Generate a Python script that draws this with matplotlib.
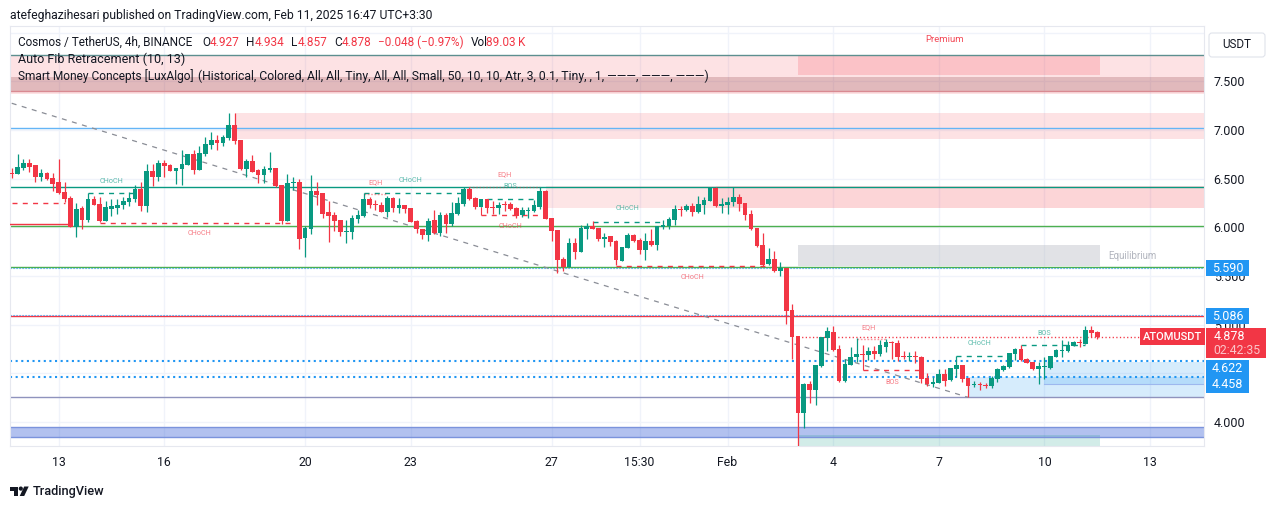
import matplotlib
matplotlib.use("Agg")
import matplotlib.pyplot as plt
from matplotlib.patches import Rectangle, Polygon, Circle, FancyBboxPatch
from matplotlib.transforms import Affine2D

plt.rcParams['font.family'] = ['Roboto', 'DejaVu Sans']

UP = '#089981'
DOWN = '#f23645'
TEXT = '#131722'
BLUE = '#2196f3'

# 4h candles
opens = [6.56,6.55,6.61,6.66,6.64,6.52,6.56,6.51,6.47,6.36,6.30,6.00,6.20,6.08,6.29,6.24,6.07,6.19,6.20,6.23,
         6.26,6.29,6.40,6.22,6.58,6.52,6.66,6.64,6.58,6.60,6.64,6.755,6.59,6.755,6.85,6.90,6.87,6.92,7.05,6.90,
         6.60,6.68,6.59,6.54,6.59,6.61,6.44,6.07,6.46,6.47,5.89,5.98,6.375,6.35,6.16,6.128,6.076,5.953,5.953,6.087,
         6.117,6.292,6.241,6.23,6.158,6.302,6.2,6.23,6.2,6.066,5.984,5.922,6.076,5.943,6.128,6.035,6.138,6.241,6.395,6.302,
         6.21,6.292,6.21,6.2,6.241,6.241,6.2,6.128,6.169,6.169,6.21,6.374,6.097,5.974,5.675,5.593,5.84,5.747,5.984,6.014,
         5.994,5.881,5.912,5.86,5.655,5.788,5.922,5.871,5.768,5.86,5.819,6.004,6.014,6.076,6.189,6.179,6.22,6.158,6.23,6.271,
         6.405,6.22,6.23,6.261,6.312,6.251,6.138,5.994,5.819,5.624,5.675,5.552,5.583,5.151,4.884,4.093,4.391,4.329,4.576,4.864,
         4.925,4.751,4.422,4.586,4.668,4.699,4.689,4.73,4.699,4.771,4.822,4.812,4.679,4.668,4.679,4.668,4.452,4.391,4.401,4.494,
         4.432,4.545,4.586,4.453,4.381,4.391,4.381,4.371,4.442,4.535,4.566,4.7,4.751,4.648,4.617,4.545,4.566,4.555,4.669,4.73,
         4.73,4.782,4.823,4.802,4.946,4.927]
highs = [6.61,6.75,6.70,6.70,6.64,6.60,6.57,6.56,6.70,6.47,6.32,6.25,6.22,6.35,6.32,6.31,6.27,6.29,6.29,6.31,
         6.36,6.44,6.47,6.65,6.65,6.69,6.69,6.65,6.61,6.80,6.755,6.80,6.84,6.93,6.98,6.95,6.95,7.18,7.18,6.90,
         6.70,6.745,6.60,6.63,6.78,6.61,6.44,6.55,6.52,6.50,6.015,6.54,6.47,6.35,6.27,6.162,6.076,6.076,6.128,6.179,
         6.354,6.313,6.282,6.261,6.323,6.313,6.302,6.23,6.2,6.076,5.984,6.097,6.179,6.158,6.148,6.261,6.313,6.415,6.415,6.313,
         6.292,6.292,6.272,6.261,6.272,6.261,6.21,6.21,6.21,6.282,6.415,6.385,6.097,5.974,5.696,5.891,5.891,6.025,6.045,6.066,
         5.994,5.942,5.912,5.871,5.799,5.942,5.932,5.891,5.942,5.984,6.014,6.076,6.107,6.23,6.22,6.241,6.251,6.323,6.312,6.415,
         6.415,6.302,6.312,6.415,6.343,6.251,6.179,5.994,5.942,5.788,5.757,5.644,5.583,5.213,4.884,4.401,4.422,4.586,4.874,4.977,
         4.987,4.792,4.648,4.771,4.864,4.792,4.771,4.781,4.843,4.853,4.833,4.843,4.73,4.72,4.73,4.679,4.504,4.463,4.545,4.545,
         4.555,4.679,4.586,4.453,4.422,4.412,4.401,4.473,4.555,4.586,4.71,4.761,4.792,4.658,4.617,4.617,4.669,4.679,4.751,4.843,
         4.833,4.833,4.854,4.987,4.987,4.934]
lows = [6.51,6.55,6.59,6.57,6.47,6.48,6.49,6.37,6.34,6.26,6.00,5.90,5.98,6.06,6.23,6.06,6.07,6.12,6.14,6.19,
        6.22,6.26,6.17,6.16,6.43,6.48,6.52,6.58,6.45,6.44,6.64,6.55,6.59,6.73,6.81,6.80,6.84,6.90,6.86,6.59,
        6.52,6.57,6.46,6.46,6.57,6.42,6.035,6.07,6.385,5.78,5.70,5.93,6.23,6.10,5.85,5.963,5.912,5.84,5.881,6.042,
        6.107,6.2,6.179,6.158,6.107,6.158,6.148,6.148,6.056,5.943,5.881,5.86,5.932,5.912,5.943,6.015,6.128,6.22,6.282,6.189,
        6.21,6.148,6.138,6.138,6.169,6.179,6.097,6.107,6.097,6.158,6.189,6.087,5.86,5.532,5.552,5.593,5.675,5.747,5.881,5.984,
        5.86,5.799,5.809,5.614,5.655,5.788,5.85,5.727,5.665,5.809,5.768,5.984,5.984,6.025,6.117,6.169,6.117,6.148,6.138,6.271,
        6.21,6.148,6.138,6.22,6.169,6.076,5.973,5.799,5.603,5.614,5.542,5.501,5.008,4.648,3.754,3.942,4.196,4.175,4.566,4.73,
        4.73,4.411,4.411,4.586,4.617,4.627,4.638,4.648,4.679,4.72,4.648,4.627,4.648,4.627,4.607,4.401,4.37,4.36,4.401,4.37,
        4.422,4.463,4.411,4.257,4.36,4.329,4.35,4.35,4.412,4.525,4.555,4.638,4.627,4.607,4.535,4.391,4.442,4.545,4.669,4.669,
        4.72,4.782,4.771,4.802,4.874,4.857]
closes = [6.55,6.62,6.66,6.62,6.52,6.56,6.50,6.45,6.35,6.29,6.00,6.19,6.08,6.29,6.23,6.07,6.21,6.22,6.23,6.27,
          6.30,6.40,6.22,6.58,6.52,6.66,6.63,6.58,6.61,6.65,6.755,6.59,6.765,6.86,6.90,6.87,6.93,7.05,6.89,6.60,
          6.68,6.57,6.54,6.60,6.61,6.43,6.07,6.46,6.47,5.88,5.99,6.375,6.33,6.14,6.12,6.066,5.953,5.963,6.097,6.128,
          6.292,6.23,6.23,6.158,6.302,6.2,6.23,6.189,6.056,5.984,5.922,6.066,5.943,6.128,6.035,6.148,6.251,6.395,6.292,6.21,
          6.292,6.2,6.2,6.23,6.23,6.189,6.117,6.179,6.179,6.23,6.374,6.087,5.963,5.665,5.593,5.84,5.747,5.994,6.014,5.984,
          5.881,5.901,5.85,5.665,5.799,5.922,5.86,5.768,5.86,5.819,6.014,6.025,6.086,6.189,6.179,6.22,6.158,6.241,6.282,6.405,
          6.22,6.241,6.261,6.312,6.241,6.127,5.984,5.809,5.614,5.675,5.552,5.583,5.141,4.874,4.093,4.391,4.329,4.586,4.874,4.936,
          4.74,4.422,4.596,4.668,4.699,4.689,4.73,4.699,4.792,4.822,4.812,4.668,4.668,4.679,4.668,4.442,4.391,4.411,4.494,4.422,
          4.555,4.586,4.442,4.371,4.391,4.381,4.371,4.453,4.545,4.576,4.71,4.751,4.638,4.607,4.545,4.576,4.576,4.679,4.741,4.741,
          4.792,4.823,4.812,4.946,4.915,4.878]

date_ticks = [9, 27, 51, 69, 93, 108, 123, 141, 159, 177, 195]
date_labels = ['13', '16', '20', '23', '27', '15:30', 'Feb', '4', '7', '10', '13']
price_ticks = [4.0, 4.5, 5.0, 5.5, 6.0, 6.5, 7.0, 7.5]
price_labels = ['4.000', '', '5.000', '5.500', '6.000', '6.500', '7.000', '7.500']

# level lines: price, colour, width
levels = [(7.767, '#5d8f8f', 1.0), (7.402, '#d98a92', 1.0), (7.019, '#64b5f6', 1.0), (6.42, UP, 1.0),
          (6.015, '#4caf50', 1.0), (5.59, '#4caf50', 1.0), (5.09, DOWN, 1.0),
          (4.253, '#8f93bd', 1.0), (3.946, '#7b93dc', 1.0), (3.846, '#7b93dc', 1.0)]
dotted_levels = [(5.097, 0.8), (5.585, 0.8), (4.63, 1.5), (4.458, 1.5)]

# zones: first bar, last bar (None = right edge), top, bottom, colour, alpha
zones = [(None, None, 7.767, 7.372, DOWN, 0.14),
         (None, None, 7.546, 7.402, '#7f2a30', 0.22),
         (135, 186.4, 7.767, 7.567, DOWN, 0.18),
         (39, None, 7.173, 6.912, DOWN, 0.14),
         (92, None, 6.426, 6.195, DOWN, 0.13),
         (121, None, 6.426, 6.195, DOWN, 0.09),
         (135, 186.4, 5.82, 5.60, '#b2b5be', 0.38),
         (164, None, 4.458, 4.253, BLUE, 0.18),
         (177, None, 4.622, 4.396, BLUE, 0.18),
         (None, None, 3.946, 3.846, '#3f66d8', 0.40),
         (135, 186.4, 3.867, 3.754, UP, 0.18)]

# structure lines: first bar, last bar, price, colour, style
structure = [(14, 22, 6.35, UP, 'dash'), (1, 10, 6.25, DOWN, 'dash'), (0.7, 11, 6.04, DOWN, 'solid'),
             (16, 49, 6.05, DOWN, 'dash'), (61, 78, 6.35, UP, 'dash'), (61, 65, 6.345, DOWN, 'dot'),
             (79, 91, 6.415, DOWN, 'dot'), (82, 91, 6.29, UP, 'dash'), (81, 92, 6.125, DOWN, 'dash'),
             (100, 112, 6.059, UP, 'dash'), (104, 130, 5.607, DOWN, 'dash'), (145, 150, 4.857, DOWN, 'dot'),
             (146, 156, 4.53, DOWN, 'dash'), (162, 171, 4.676, UP, 'dash'), (173, 184, 4.792, UP, 'dash')]

# small labels: bar, price, text, colour
tags = [(18, 6.467, 'CHoCH', UP), (33, 5.933, 'CHoCH', DOWN), (63, 6.46, 'EQH', DOWN), (69, 6.48, 'CHoCH', UP),
        (85, 6.542, 'EQH', DOWN), (86, 6.419, 'BOS', UP), (86, 6.012, 'CHoCH', DOWN), (106, 6.197, 'CHoCH', UP),
        (117, 5.488, 'CHoCH', DOWN), (147, 4.974, 'EQH', DOWN), (151, 4.404, 'BOS', DOWN), (166, 4.805, 'CHoCH', UP),
        (177, 4.91, 'BOS', UP)]

fig = plt.figure(figsize=(12.81, 5.09), dpi=100, facecolor='white')
ax = fig.add_axes([10 / 1281, 1 - 446 / 509, 1194 / 1281, 420 / 509])
ax.set_xlim(0.71, 204.2)
ax.set_ylim(3.754, 8.070)

for s in ['top', 'bottom', 'left', 'right']:
    ax.spines[s].set_color('#e6e8ef')
    ax.spines[s].set_linewidth(0.8)
ax.yaxis.tick_right()
ax.set_xticks(date_ticks)
ax.set_xticklabels(date_labels, fontsize=8.8, color=TEXT)
ax.set_yticks(price_ticks)
ax.set_yticklabels(price_labels, fontsize=9, color=TEXT)
ax.tick_params(length=0)
ax.tick_params(axis='x', pad=7)
ax.tick_params(axis='y', pad=7)
ax.grid(True, color='#f0f3fa', linewidth=1)
ax.axhline(8.0, color='#f0f3fa', linewidth=1)
ax.set_axisbelow(True)

for first, last, top, bottom, colour, alpha in zones:
    x0 = ax.get_xlim()[0] if first is None else first
    x1 = ax.get_xlim()[1] if last is None else last
    ax.add_patch(Rectangle((x0, bottom), x1 - x0, top - bottom, facecolor=colour, alpha=alpha,
                           edgecolor='none', zorder=1))

for price, colour, width in levels:
    ax.axhline(price, color=colour, linewidth=width, zorder=2)
for price, width in dotted_levels:
    ax.axhline(price, color=BLUE, linewidth=width, linestyle=(0, (1, 1.7)), zorder=2)
ax.plot([177, ax.get_xlim()[1]], [4.396, 4.396], color='#9db8ee', linewidth=0.8, zorder=2)

# falling fib trend line and last price line
ax.plot([1, 164], [7.276, 4.254], color='#8a8d96', linewidth=0.9, linestyle=(0, (4, 4.4)), zorder=2)
ax.plot([135, ax.get_xlim()[1]], [closes[-1], closes[-1]], color=DOWN, linewidth=1,
        linestyle=(0, (0.9, 1.7)), zorder=2)

styles = {'dash': (0, (3.6, 3.8)), 'dot': (0, (1.2, 1.2)), 'solid': '-'}
for first, last, price, colour, style in structure:
    alpha = 0.5 if style == 'dot' else 1
    ax.plot([first, last], [price, price], color=colour, linewidth=1, linestyle=styles[style],
            alpha=alpha, zorder=3)
ax.vlines([81, 146], [6.125, 4.53], [6.21, 4.699], color=DOWN, linewidth=0.8, zorder=3)

for i in range(len(opens)):
    colour = UP if closes[i] >= opens[i] else DOWN
    bar = i + 1
    ax.vlines(bar, lows[i], highs[i], color=colour, linewidth=0.9, zorder=4)
    ax.bar(bar, max(abs(closes[i] - opens[i]), 0.012), bottom=min(opens[i], closes[i]), width=0.8,
           color=colour, linewidth=0, zorder=5)

for bar, price, label, colour in tags:
    ax.text(bar, price, label, color=colour, alpha=0.65, fontsize=5.2, ha='center', va='center', zorder=6)
ax.text(160, 7.927, 'Premium', color=DOWN, alpha=0.9, fontsize=6.8, ha='center', va='center', zorder=6)
ax.text(192, 5.707, 'Equilibrium', color='#b2b5be', fontsize=7, ha='center', va='center', zorder=6)

# everything below is placed in picture pixels
px = Affine2D().scale(1, -1).translate(0, 509)


def put(x, y, s, colour=TEXT, size=8.5, ha='left', weight='normal'):
    fig.text(x, y, s, color=colour, fontsize=size, ha=ha, va='center', transform=px, weight=weight, zorder=20)


def box(x0, y0, x1, y1, colour):
    fig.add_artist(Rectangle((x0, y0), x1 - x0, y1 - y0, facecolor=colour, edgecolor='none', transform=px, zorder=15))


put(10, 15, 'atefeghazihesari published on TradingView.com, Feb 11, 2025 16:47 UTC+3:30', size=8.75)
put(18, 42, 'Cosmos / TetherUS, 4h, BINANCE')
for x, s, colour in [(202, 'O', TEXT), (210, '4.927', DOWN), (246, 'H', TEXT), (254.5, '4.934', DOWN),
                     (291.5, 'L', TEXT), (297.5, '4.857', DOWN), (334, 'C', TEXT), (341.5, '4.878', DOWN),
                     (378.5, '\u22120.048 (\u22120.97%)', DOWN), (471, 'Vol', TEXT), (486, '89.03\u2009K', DOWN)]:
    put(x, 42, s, colour)
put(18, 59, 'Auto Fib Retracement (10, 13)', size=9)
put(18, 76, 'Smart Money Concepts [LuxAlgo]', size=8.6)
put(198, 76, '(Historical, Colored, All, All, Tiny, All, All, Small, 50, 10, 10, Atr, 3, 0.1, Tiny, , 1, \u2014\u2014\u2014, \u2014\u2014\u2014, \u2014\u2014\u2014)', size=8.85)

fig.add_artist(FancyBboxPatch((1209, 33), 56, 24, boxstyle='round,pad=0,rounding_size=3', facecolor='white',
                              edgecolor='#e0e3eb', linewidth=0.8, transform=px, zorder=15))
put(1237, 45, 'USDT', size=8.4, ha='center')

box(1206, 260, 1249, 276, BLUE)
put(1227.5, 268, '5.590', 'white', 9, 'center')
box(1206, 308, 1249, 324, BLUE)
put(1227.5, 316.5, '5.086', 'white', 9, 'center')
box(1206, 360, 1249, 376.7, BLUE)
put(1227.5, 368, '4.622', 'white', 9, 'center')
box(1206, 376.7, 1249, 392.7, BLUE)
put(1227.5, 385, '4.458', 'white', 9, 'center')

box(1140, 328, 1205, 345, DOWN)
put(1172.5, 336.5, 'ATOMUSDT', 'white', 8, 'center', 'medium')
box(1206, 328, 1266, 358, DOWN)
put(1213.5, 337, '4.878', 'white', 9)
put(1213.5, 351, '02:42:35', '#fbc4c9', 8.8)

# TradingView mark
fig.add_artist(Polygon([(10, 486.5), (18, 486.5), (18, 496), (14, 496), (14, 490.5), (10, 490.5)],
                       facecolor=TEXT, edgecolor='none', transform=px, zorder=15))
fig.add_artist(Circle((20.8, 488.6), 2.1, facecolor=TEXT, edgecolor='none', transform=px, zorder=15))
fig.add_artist(Polygon([(24.2, 486.5), (28.7, 486.5), (24.2, 496), (19.7, 496)],
                       facecolor=TEXT, edgecolor='none', transform=px, zorder=15))
put(33, 491.5, 'TradingView', size=9.2, weight='medium')

fig.savefig('out.png', dpi=100)
